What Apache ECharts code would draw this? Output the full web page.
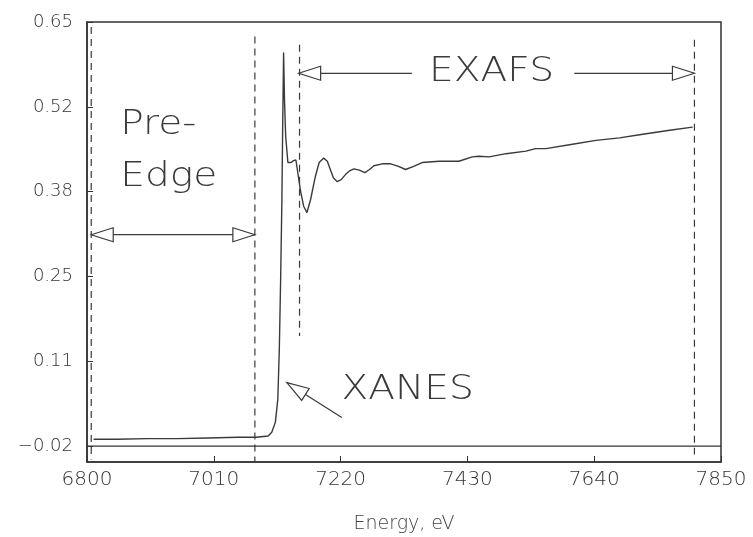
<!DOCTYPE html>
<html>
<head>
<meta charset="utf-8">
<script src="https://cdn.jsdelivr.net/npm/echarts@6/dist/echarts.min.js"></script>
<style>
  html, body { margin: 0; padding: 0; background: #ffffff; }
  #chart { width: 753px; height: 537px; }
</style>
</head>
<body>
<div id="chart"></div>
<script>
// X-ray absorption spectrum: absorbance vs photon energy (eV)
const energy = [6811, 6850, 6900, 6950, 7000, 7050, 7080, 7100, 7106, 7112, 7116, 7118.5, 7120.6, 7122.8, 7124, 7125.6, 7127, 7129, 7132.7, 7138, 7142, 7146, 7149.3, 7153.3, 7158.8, 7164.3, 7170.4, 7178.2, 7184.5, 7192, 7198, 7203, 7208, 7214, 7221, 7228, 7235, 7242, 7251, 7260, 7268, 7275, 7289, 7303, 7316, 7327.5, 7341, 7355, 7383, 7416, 7438, 7449, 7466, 7494, 7527, 7543, 7560, 7604, 7643, 7682, 7715, 7765, 7803];
const absorbance = [-0.009, -0.009, -0.008, -0.008, -0.007, -0.006, -0.006, -0.004, 0.002, 0.018, 0.054, 0.133, 0.239, 0.370, 0.480, 0.602, 0.530, 0.470, 0.428, 0.428, 0.431, 0.432, 0.430, 0.385, 0.359, 0.349, 0.370, 0.406, 0.428, 0.435, 0.430, 0.417, 0.404, 0.398, 0.401, 0.409, 0.415, 0.418, 0.416, 0.412, 0.417, 0.423, 0.426, 0.426, 0.422, 0.417, 0.422, 0.428, 0.430, 0.430, 0.437, 0.438, 0.437, 0.442, 0.446, 0.450, 0.450, 0.457, 0.463, 0.467, 0.472, 0.479, 0.484];

// Axis ticks
const xTicks = [6800, 7010, 7220, 7430, 7640, 7850];
const yTicks = [-0.02, 0.114, 0.248, 0.382, 0.516, 0.65];
const yTickLabels = ['\u22120.02', '0.11', '0.25', '0.38', '0.52', '0.65'];

// Region dividers (dashed verticals): energy, top, bottom
const dividerEnergy = [6807, 7078, 7152, 7806];
const dividerTop = [0.642, 0.627, 0.614, 0.622];
const dividerBottom = [-0.041, -0.044, 0.154, -0.033];

// Reference level drawn across the plot
const baselineLevel = -0.02;

// Arrows: [fromX, fromY, toX, toY, headAtStart(0/1)]; head always drawn at "to"
const arrowSegments = [
  [6807, 0.314, 7078, 0.314, 1],   // Pre-Edge span
  [7338, 0.569, 7150.5, 0.569, 0], // EXAFS left
  [7607, 0.569, 7806, 0.569, 0],   // EXAFS right
  [7222, 0.0253, 7131, 0.0803, 0]  // XANES pointer
];

// Region names: [x, y, text, align]
const regionLabels = [
  [6855, 0.487, 'Pre-', 'left'],
  [6855, 0.405, 'Edge', 'left'],
  [7470, 0.570, 'EXAFS', 'center'],
  [7331, 0.068, 'XANES', 'center']
];

const ink = '#3a3a3a';
const fontFamily = '"DejaVu Sans", Lato, sans-serif';

const chart = echarts.init(document.getElementById('chart'), null, { renderer: 'canvas' });

function arrowHead(tip, from) {
  const dx = tip[0] - from[0], dy = tip[1] - from[1];
  const len = Math.sqrt(dx * dx + dy * dy) || 1;
  const ux = dx / len, uy = dy / len;
  const hl = 22, hw = 7;
  const bx = tip[0] - ux * hl, by = tip[1] - uy * hl;
  return {
    type: 'polygon',
    shape: { points: [tip, [bx - uy * hw, by + ux * hw], [bx + uy * hw, by - ux * hw]] },
    style: { fill: '#ffffff', stroke: ink, lineWidth: 1.2 },
    z2: 10
  };
}

const option = {
  animation: false,
  backgroundColor: '#ffffff',
  grid: {
    left: 87, right: 32, top: 22, bottom: 75,
    outerBoundsMode: 'none', containLabel: false,
    show: true, borderColor: '#333', borderWidth: 1.5, backgroundColor: 'transparent'
  },
  xAxis: {
    type: 'value', min: 6800, max: 7850,
    name: 'Energy, eV', nameLocation: 'middle', nameGap: 53,
    nameTextStyle: { fontFamily, fontSize: 19, color: '#444', fontWeight: 200 },
    axisLine: { show: true, onZero: false, lineStyle: { color: '#333', width: 1.5 } },
    axisTick: { show: true, inside: true, length: 6, customValues: xTicks, lineStyle: { color: '#333' } },
    axisLabel: {
      customValues: xTicks, margin: 8, fontFamily, fontSize: 20, color: '#333', fontWeight: 200,
      formatter: function (v) { return String(Math.round(v)); }
    },
    splitLine: { show: false }
  },
  yAxis: {
    type: 'value', min: -0.045, max: 0.65,
    axisLine: { show: true, onZero: false, lineStyle: { color: '#333', width: 1.5 } },
    axisTick: { show: true, inside: true, length: 6, customValues: yTicks, lineStyle: { color: '#333' } },
    axisLabel: {
      customValues: yTicks, margin: 14, fontFamily, fontSize: 18, color: '#333', fontWeight: 200,
      formatter: function (v) {
        let best = 0;
        yTicks.forEach(function (t, i) { if (Math.abs(t - v) < Math.abs(yTicks[best] - v)) best = i; });
        return yTickLabels[best];
      }
    },
    splitLine: { show: false }
  },
  series: [
    {
      type: 'line', name: 'baseline', symbol: 'none', silent: true,
      data: [[6800, baselineLevel], [7850, baselineLevel]],
      lineStyle: { color: '#333', width: 1.3 }
    },
    {
      type: 'custom', name: 'dividers', silent: true,
      data: dividerEnergy.map(function (e, i) { return [e, dividerTop[i], dividerBottom[i]]; }),
      renderItem: function (params, api) {
        const p0 = api.coord([api.value(0), api.value(1)]);
        const p1 = api.coord([api.value(0), api.value(2)]);
        return {
          type: 'line',
          shape: { x1: p0[0], y1: p0[1], x2: p1[0], y2: p1[1] },
          style: { stroke: ink, lineWidth: 1.2, lineDash: [7, 5] }
        };
      }
    },
    {
      type: 'line', name: 'absorbance', symbol: 'none', silent: true,
      data: energy.map(function (e, i) { return [e, absorbance[i]]; }),
      lineStyle: { color: ink, width: 1.4 },
      z: 5
    },
    {
      type: 'custom', name: 'arrows', silent: true,
      data: arrowSegments,
      renderItem: function (params, api) {
        const a = [api.coord([api.value(0), api.value(1)]), api.coord([api.value(2), api.value(3)])];
        const children = [{
          type: 'line',
          shape: { x1: a[0][0], y1: a[0][1], x2: a[1][0], y2: a[1][1] },
          style: { stroke: ink, lineWidth: 1.2 }
        }, arrowHead(a[1], a[0])];
        if (api.value(4) === 1) children.push(arrowHead(a[0], a[1]));
        return { type: 'group', children: children };
      },
      z: 6
    },
    {
      type: 'custom', name: 'labels', silent: true,
      data: regionLabels.map(function (r) { return [r[0], r[1]]; }),
      renderItem: function (params, api) {
        const r = regionLabels[params.dataIndex];
        const p = api.coord([api.value(0), api.value(1)]);
        return {
          type: 'text',
          x: p[0], y: p[1], scaleX: 1.15,
          style: {
            text: r[2], fill: '#3a3a3a', font: '200 34px ' + fontFamily,
            align: r[3], verticalAlign: 'middle'
          },
          z2: 20
        };
      },
      z: 7
    }
  ]
};

chart.setOption(option);
</script>
</body>
</html>
